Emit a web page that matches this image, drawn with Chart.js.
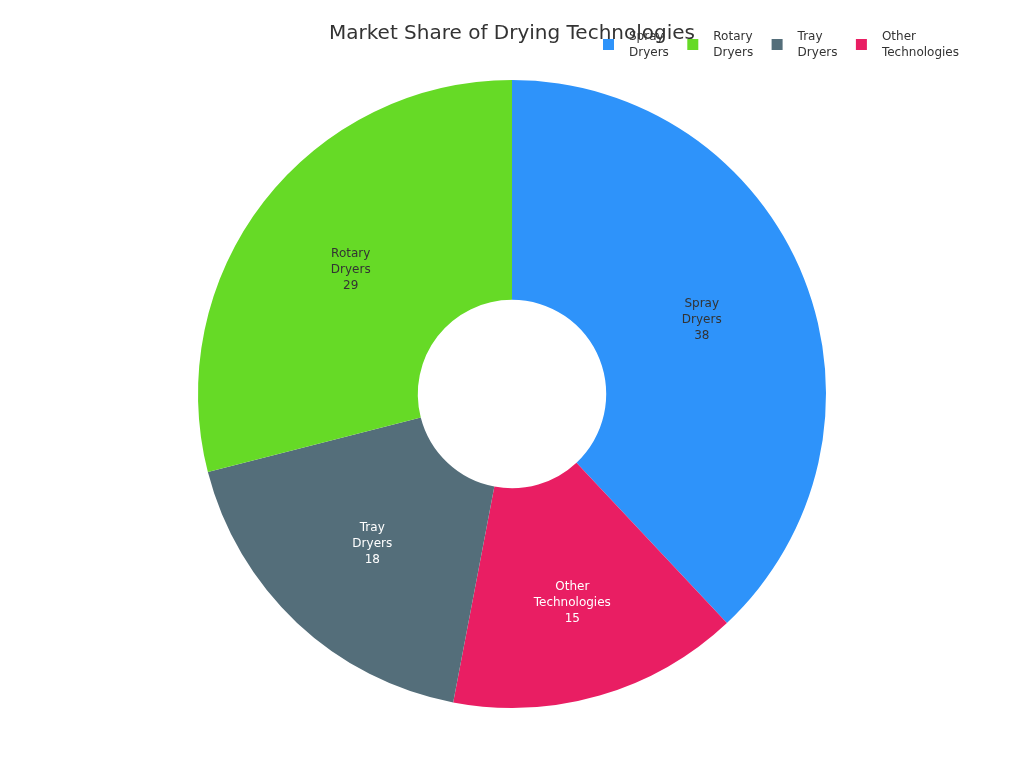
<!DOCTYPE html>
<html>
<head>
<meta charset="utf-8">
<script src="https://cdn.jsdelivr.net/npm/chart.js@4.4.1/dist/chart.umd.min.js"></script>
<style>
  html, body { margin: 0; padding: 0; background: #fff; }
  #chart { display: block; }
</style>
</head>
<body>
<canvas id="chart" width="1024" height="768"></canvas>
<script>
// chart data (legend order)
const categories = [["Spray", "Dryers"], ["Rotary", "Dryers"], ["Tray", "Dryers"], ["Other", "Technologies"]];
const shares = [38, 29, 18, 15];
const colors = ["#2E93FA", "#66DA26", "#546E7A", "#E91E63"];
const labelColors = ["#333333", "#333333", "#ffffff", "#ffffff"];
// clockwise order of the slices, starting at 12 o'clock
const sliceOrder = [0, 3, 2, 1];
const chartTitle = "Market Share of Drying Technologies";

const FONT = "'DejaVu Sans', sans-serif";
const pick = (arr) => sliceOrder.map((i) => arr[i]);

// slice labels, title and legend drawn by hand
const overlayPlugin = {
  id: "overlay",
  afterDatasetsDraw(chart) {
    const ctx = chart.ctx;
    const meta = chart.getDatasetMeta(0);
    ctx.save();
    ctx.font = "12px " + FONT;
    ctx.textAlign = "center";
    ctx.textBaseline = "middle";
    meta.data.forEach((arc, k) => {
      const i = sliceOrder[k];
      const { x, y, startAngle, endAngle, innerRadius, outerRadius } = arc.getProps(
        ["x", "y", "startAngle", "endAngle", "innerRadius", "outerRadius"], true);
      const mid = (startAngle + endAngle) / 2;
      // wide label on the narrow slice sits a little further out
      const r = (innerRadius + outerRadius) / 2 + (i === 3 ? 12 : 0);
      const cx = x + Math.cos(mid) * r;
      const cy = y + Math.sin(mid) * r;
      const lines = categories[i].concat([String(shares[i])]);
      ctx.fillStyle = labelColors[i];
      lines.forEach((t, j) => {
        ctx.fillText(t, cx, cy + 1 + (j - (lines.length - 1) / 2) * 16);
      });
    });
    ctx.restore();
  },
  afterDraw(chart) {
    const ctx = chart.ctx;
    ctx.save();
    // title
    ctx.font = "20px " + FONT;
    ctx.fillStyle = "#333333";
    ctx.textAlign = "center";
    ctx.textBaseline = "middle";
    ctx.fillText(chartTitle, 512, 34);
    // legend
    ctx.font = "12px " + FONT;
    ctx.textAlign = "left";
    categories.forEach((lab, i) => {
      const x0 = 603 + i * 84.3;
      ctx.fillStyle = colors[i];
      ctx.fillRect(x0, 39, 11, 11);
      ctx.fillStyle = "#333333";
      lab.forEach((t, j) => ctx.fillText(t, x0 + 26, 37 + j * 16));
    });
    ctx.restore();
  }
};

new Chart(document.getElementById("chart"), {
  type: "doughnut",
  data: {
    labels: pick(categories).map((c) => c.join(" ")),
    datasets: [{
      data: pick(shares),
      backgroundColor: pick(colors),
      borderWidth: 0,
      hoverOffset: 0
    }]
  },
  options: {
    responsive: false,
    animation: false,
    cutout: "30%",
    layout: { padding: { top: 80, bottom: 60 } },
    plugins: {
      legend: { display: false },
      title: { display: false },
      tooltip: { enabled: false }
    }
  },
  plugins: [overlayPlugin]
});
</script>
</body>
</html>
